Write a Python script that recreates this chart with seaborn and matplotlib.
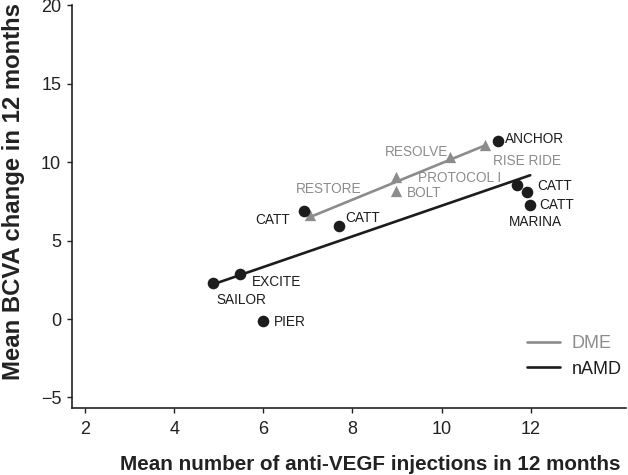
import matplotlib
matplotlib.use("Agg")
import matplotlib.pyplot as plt
import seaborn as sns
import pandas as pd

# ---- data ----
namd_names = ["SAILOR", "EXCITE", "PIER", "CATT", "CATT", "ANCHOR", "CATT", "CATT", "MARINA"]
namd_inj = [4.88, 5.48, 6.00, 6.92, 7.69, 11.26, 11.69, 11.92, 11.99]
namd_bcva = [2.31, 2.85, -0.13, 6.90, 5.95, 11.34, 8.58, 8.08, 7.27]

dme_names = ["RESTORE", "PROTOCOL I", "BOLT", "RESOLVE", "RISE RIDE"]
dme_inj = [7.05, 8.99, 8.99, 10.19, 10.98]
dme_bcva = [6.63, 9.03, 8.18, 10.34, 11.09]

x_ticks = [2, 4, 6, 8, 10, 12]
y_ticks = [-5, 0, 5, 10, 15, 20]
x_label = "Mean number of anti-VEGF injections in 12 months"
y_label = "Mean BCVA change in 12 months"
series_labels = ["DME", "nAMD"]

# ---- style ----
sns.set_theme(style="ticks")
plt.rcParams["font.family"] = ["Liberation Sans", "DejaVu Sans"]
plt.rcParams["axes.unicode_minus"] = True

DME_C = "#8c8c8c"
NAMD_C = "#1c1c1c"
AX_C = "#222222"

fig = plt.figure(figsize=(6.28, 4.75), dpi=100)
ax = fig.add_axes([72.3 / 628, (475 - 408.3) / 475, (626 - 72.3) / 628, (408.3 - 5) / 475])

dme = pd.DataFrame({"inj": dme_inj, "bcva": dme_bcva})
namd = pd.DataFrame({"inj": namd_inj, "bcva": namd_bcva})

sns.regplot(data=dme, x="inj", y="bcva", ax=ax, ci=None, marker="^", color=DME_C,
            scatter_kws=dict(s=66, linewidths=0, alpha=1, zorder=2),
            line_kws=dict(lw=1.9, zorder=2), label=series_labels[0])
sns.regplot(data=namd, x="inj", y="bcva", ax=ax, ci=None, marker="o", color=NAMD_C,
            scatter_kws=dict(s=70, linewidths=0, alpha=1, zorder=3),
            line_kws=dict(lw=1.9, zorder=3), label=series_labels[1])

# label offsets in points (layout only)
namd_offsets = [((20.2, -12.0), "center"), ((8.4, -5.8), "left"), ((7.9, -0.5), "left"),
                ((-10.3, -6.7), "right"), ((5.0, 5.8), "left"), ((5.3, 1.9), "left"),
                ((14.9, -1.0), "left"), ((8.6, -9.1), "left"), ((3.8, -12.0), "center")]
dme_offsets = [((13.2, 18.5), "center"), ((15.6, -0.7), "left"), ((7.6, -1.9), "left"),
               ((-1.4, 3.6), "right"), ((5.5, -11.3), "left")]

for name, xv, yv, (off, ha) in zip(namd_names, namd_inj, namd_bcva, namd_offsets):
    ax.annotate(name, (xv, yv), xytext=off, textcoords="offset points", ha=ha, va="center",
                fontsize=9.8, color=NAMD_C, zorder=5)
for name, xv, yv, (off, ha) in zip(dme_names, dme_inj, dme_bcva, dme_offsets):
    ax.annotate(name, (xv, yv), xytext=off, textcoords="offset points", ha=ha, va="center",
                fontsize=9.8, color=DME_C, zorder=5)

ax.set_xlim(1.715, 14.14)
ax.set_ylim(-5.69, 20.03)
ax.set_xticks(x_ticks)
ax.set_yticks(y_ticks)
ax.tick_params(axis="both", labelsize=13, colors=AX_C, length=3.5, width=1.0, direction="out")
ax.tick_params(axis="x", pad=6)
ax.tick_params(axis="y", pad=4.5)
for s in ["top", "right"]:
    ax.spines[s].set_visible(False)
for s in ["left", "bottom"]:
    ax.spines[s].set_color(AX_C)
    ax.spines[s].set_linewidth(1.2)

ax.set_xlabel(x_label, fontsize=14.9, fontweight="bold", color=AX_C)
ax.set_ylabel(y_label, fontsize=17.2, fontweight="bold", color=AX_C)
ax.xaxis.label.set_va("center")
ax.yaxis.label.set_va("center")
ax.xaxis.set_label_coords(0.538, -(465 - 408.3) / (408.3 - 5))
ax.yaxis.set_label_coords(-(72.3 - 14) / (626 - 72.3), 0.5376)

handles = [l for l in ax.get_lines()]
leg = ax.legend(handles, series_labels, loc="center left",
                bbox_to_anchor=(526.7 / 628, 1 - 356.5 / 475), bbox_transform=fig.transFigure,
                frameon=False, fontsize=13, handlelength=1.85, handletextpad=0.65,
                labelspacing=0.45, borderpad=0, borderaxespad=0, labelcolor="linecolor")

fig.savefig("out.png", dpi=100)
